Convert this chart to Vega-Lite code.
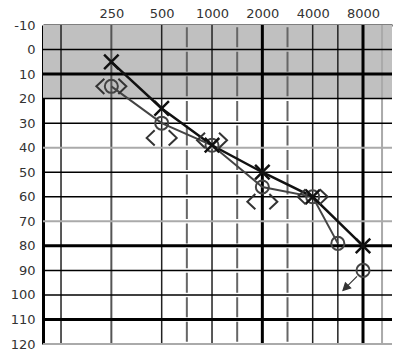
{
  "$schema": "https://vega.github.io/schema/vega-lite/v6.json",
  "width": 349,
  "height": 319,
  "autosize": {"type": "none"},
  "padding": {"left": 43, "top": 25, "right": 8, "bottom": 12},
  "background": "white",
  "config": {"view": {"stroke": null}, "axis": {"labelOverlap": false}},
  "datasets": {
    "shade": [{"db": -10, "db2": 20}],
    "hThin": [{"db": 0}, {"db": 20}, {"db": 30}, {"db": 50}, {"db": 60}, {"db": 90}, {"db": 100}],
    "hThick": [{"db": 10}, {"db": 80}, {"db": 110}],
    "hGray": [{"db": 40}, {"db": 70}, {"db": 120}],
    "vThin": [{"oct": 0}, {"oct": 2}, {"oct": 3}, {"oct": 5}, {"oct": 5.5}],
    "vMid": [{"oct": 1}],
    "vDash": [{"oct": 2.5}, {"oct": 3.5}, {"oct": 4.5}],
    "vThick": [{"oct": 4}, {"oct": 6}],
    "vLight": [{"oct": 6.378}],
    "airX": [
      {"freq": 250, "oct": 1, "db": 5},
      {"freq": 500, "oct": 2, "db": 24},
      {"freq": 1000, "oct": 3, "db": 39},
      {"freq": 2000, "oct": 4, "db": 50},
      {"freq": 4000, "oct": 5, "db": 60},
      {"freq": 8000, "oct": 6, "db": 80}
    ],
    "airO": [
      {"freq": 250, "oct": 1, "db": 15},
      {"freq": 500, "oct": 2, "db": 30},
      {"freq": 1000, "oct": 3, "db": 39},
      {"freq": 2000, "oct": 4, "db": 56},
      {"freq": 4000, "oct": 5, "db": 60},
      {"freq": 6000, "oct": 5.5, "db": 79}
    ],
    "airONR": [{"freq": 8000, "oct": 6, "db": 90}],
    "boneR": [
      {"freq": 250, "oct": 1, "db": 15},
      {"freq": 500, "oct": 2, "db": 36},
      {"freq": 1000, "oct": 3, "db": 37},
      {"freq": 2000, "oct": 4, "db": 62},
      {"freq": 4000, "oct": 5, "db": 60}
    ],
    "boneL": [
      {"freq": 250, "oct": 1, "db": 15},
      {"freq": 500, "oct": 2, "db": 36},
      {"freq": 1000, "oct": 3, "db": 37},
      {"freq": 2000, "oct": 4, "db": 62},
      {"freq": 4000, "oct": 5, "db": 60}
    ]
  },
  "layer": [
    {
      "data": {"name": "shade"},
      "mark": {"type": "rect", "color": "#c0c0c0"},
      "encoding": {
        "y": {"field": "db", "type": "quantitative", "title": null,
          "scale": {"domain": [-10, 120], "reverse": true, "nice": false, "zero": false},
          "axis": {"values": [-10, 0, 10, 20, 30, 40, 50, 60, 70, 80, 90, 100, 110, 120], "tickCount": 30, "labelExpr": "'' + datum.value", "labelOverlap": false, "grid": false, "ticks": false, "domain": true, "domainColor": "black", "domainWidth": 3, "labelPadding": 8, "labelFont": "DejaVu Sans", "labelFontSize": 13, "labelColor": "#333"}},
        "y2": {"field": "db2"}
      }
    },
    {
      "data": {"name": "vThin"},
      "mark": {"type": "rule", "color": "#222", "strokeWidth": 1.5},
      "encoding": {
        "x": {"field": "oct", "type": "quantitative", "title": null,
          "scale": {"domain": [-0.358, 6.576], "nice": false, "zero": false},
          "axis": {"orient": "top", "values": [1, 2, 3, 4, 5, 6], "tickCount": 20, "labelExpr": "format(125*pow(2,datum.value),'d')", "labelOverlap": false, "grid": false, "ticks": false, "domain": true, "domainColor": "black", "domainWidth": 2, "labelPadding": 5, "labelFont": "DejaVu Sans", "labelFontSize": 13, "labelColor": "#333"}}
      }
    },
    {
      "data": {"name": "vMid"},
      "mark": {"type": "rule", "color": "#555", "strokeWidth": 2},
      "encoding": {"x": {"field": "oct", "type": "quantitative", "title": null}}
    },
    {
      "data": {"name": "vDash"},
      "mark": {"type": "rule", "color": "#666", "strokeWidth": 2, "strokeDash": [20, 4.54], "strokeDashOffset": 22.27},
      "encoding": {"x": {"field": "oct", "type": "quantitative", "title": null}}
    },
    {
      "data": {"name": "vThick"},
      "mark": {"type": "rule", "color": "black", "strokeWidth": 3},
      "encoding": {"x": {"field": "oct", "type": "quantitative", "title": null}}
    },
    {
      "data": {"name": "vLight"},
      "mark": {"type": "rule", "color": "#aaa", "strokeWidth": 2},
      "encoding": {"x": {"field": "oct", "type": "quantitative", "title": null}}
    },
    {
      "data": {"name": "hThin"},
      "mark": {"type": "rule", "color": "black", "strokeWidth": 1.5},
      "encoding": {"y": {"field": "db", "type": "quantitative", "title": null}}
    },
    {
      "data": {"name": "hThick"},
      "mark": {"type": "rule", "color": "black", "strokeWidth": 3},
      "encoding": {"y": {"field": "db", "type": "quantitative", "title": null}}
    },
    {
      "data": {"name": "hGray"},
      "mark": {"type": "rule", "color": "#aaa", "strokeWidth": 2},
      "encoding": {"y": {"field": "db", "type": "quantitative", "title": null}}
    },
    {
      "data": {"name": "airO"},
      "mark": {"type": "line", "color": "#444", "strokeWidth": 2},
      "encoding": {
        "x": {"field": "oct", "type": "quantitative", "title": null},
        "y": {"field": "db", "type": "quantitative", "title": null}
      }
    },
    {
      "data": {"name": "airX"},
      "mark": {"type": "line", "color": "#111", "strokeWidth": 2.5},
      "encoding": {
        "x": {"field": "oct", "type": "quantitative", "title": null},
        "y": {"field": "db", "type": "quantitative", "title": null}
      }
    },
    {
      "data": {"name": "airO"},
      "mark": {"type": "point", "shape": "circle", "size": 170, "filled": false, "color": "#444", "strokeWidth": 2, "opacity": 1},
      "encoding": {
        "x": {"field": "oct", "type": "quantitative", "title": null},
        "y": {"field": "db", "type": "quantitative", "title": null}
      }
    },
    {
      "data": {"name": "airONR"},
      "mark": {"type": "point", "shape": "circle", "size": 170, "filled": false, "color": "#444", "strokeWidth": 2, "opacity": 1},
      "encoding": {
        "x": {"field": "oct", "type": "quantitative", "title": null},
        "y": {"field": "db", "type": "quantitative", "title": null}
      }
    },
    {
      "data": {"name": "airONR"},
      "mark": {"type": "point", "shape": "M-0.3,0.3L-0.75,0.75M-1,1L-0.62,0.88L-0.88,0.62Z", "size": 1600, "filled": true, "fill": "#333", "stroke": "#333", "strokeWidth": 1.2, "opacity": 1},
      "encoding": {
        "x": {"field": "oct", "type": "quantitative", "title": null},
        "y": {"field": "db", "type": "quantitative", "title": null}
      }
    },
    {
      "data": {"name": "airX"},
      "mark": {"type": "point", "shape": "M-1,-1L1,1M-1,1L1,-1", "size": 210, "filled": false, "color": "#111", "strokeWidth": 2.5, "opacity": 1},
      "encoding": {
        "x": {"field": "oct", "type": "quantitative", "title": null},
        "y": {"field": "db", "type": "quantitative", "title": null}
      }
    },
    {
      "data": {"name": "boneR"},
      "mark": {"type": "point", "shape": "M-0.35,-0.38L-0.75,0L-0.35,0.38", "size": 1600, "filled": false, "color": "#333", "strokeWidth": 2, "opacity": 1},
      "encoding": {
        "x": {"field": "oct", "type": "quantitative", "title": null},
        "y": {"field": "db", "type": "quantitative", "title": null}
      }
    },
    {
      "data": {"name": "boneL"},
      "mark": {"type": "point", "shape": "M0.35,-0.38L0.75,0L0.35,0.38", "size": 1600, "filled": false, "color": "#333", "strokeWidth": 2, "opacity": 1},
      "encoding": {
        "x": {"field": "oct", "type": "quantitative", "title": null},
        "y": {"field": "db", "type": "quantitative", "title": null}
      }
    }
  ]
}
